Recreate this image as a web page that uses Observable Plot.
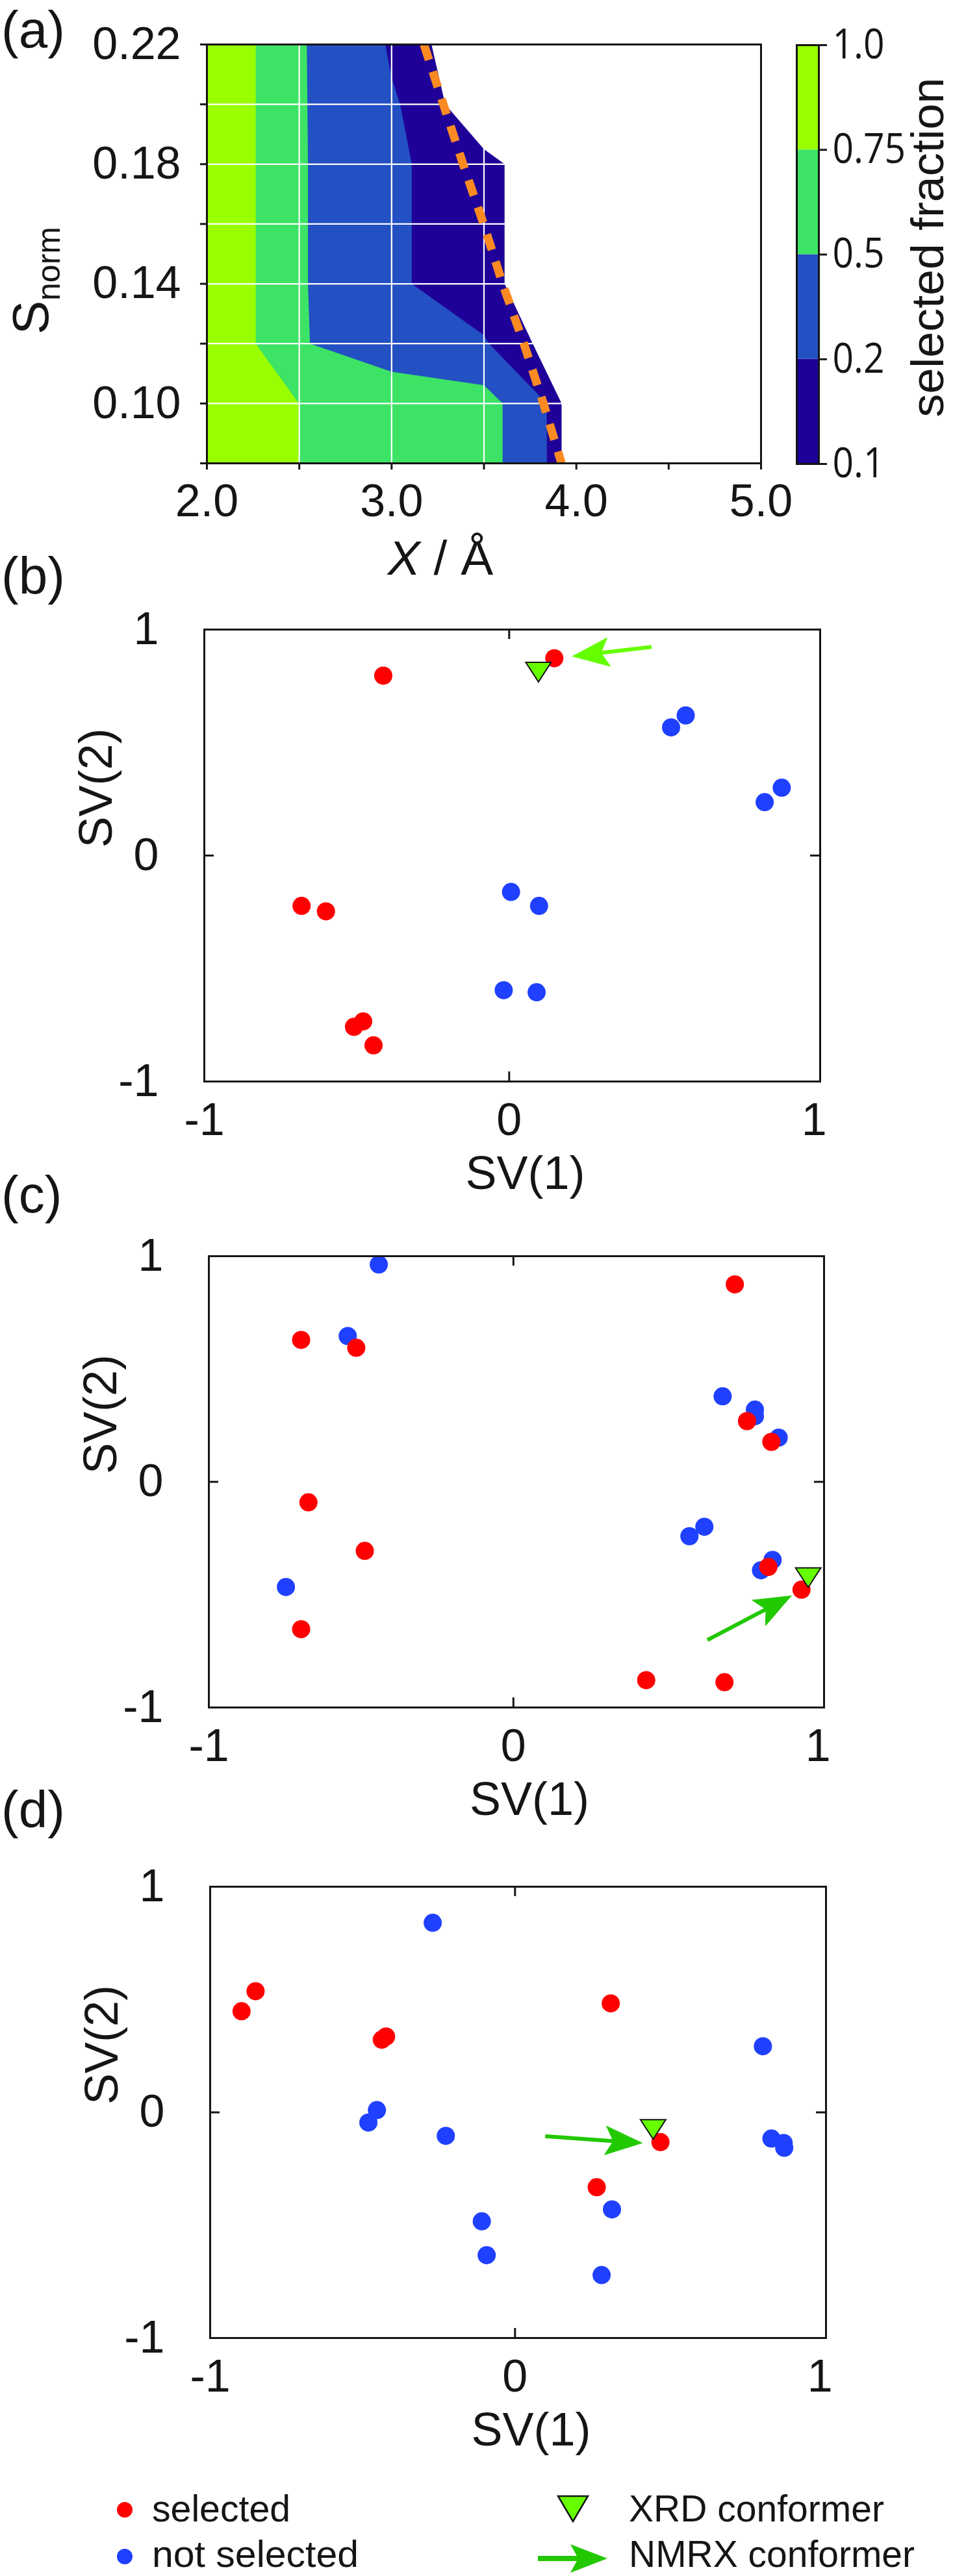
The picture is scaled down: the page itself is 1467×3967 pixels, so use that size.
<!DOCTYPE html>
<html><head><meta charset="utf-8">
<script src="https://cdn.jsdelivr.net/npm/d3@7"></script>
<script src="https://cdn.jsdelivr.net/npm/@observablehq/plot@0.6"></script>
<style>
html,body{margin:0;padding:0;background:#fff;}
#page{position:relative;width:1467px;height:3967px;overflow:hidden;background:#fff;}
</style></head>
<body><div id="page"></div>
<script>
// ===== Panel (a): selected fraction on the (X, S_norm) grid =====
const gridX = [2.0, 2.5, 3.0, 3.5, 4.0, 4.5, 5.0];
const gridY = [0.08, 0.10, 0.12, 0.14, 0.16, 0.18, 0.20, 0.22];
// selected fraction at each grid node, one row per S_norm value (bottom to top)
const fracAt008 = [1.000, 0.7485, 0.7355, 0.6265, 0, 0, 0];
const fracAt010 = [1.000, 0.7485, 0.7355, 0.6265, 0, 0, 0];
const fracAt012 = [1.000, 0.5274, 0.2912, 0.2118, 0, 0, 0];
const fracAt014 = [0.998, 0.5291, 0.2199, 0.1287, 0, 0, 0];
const fracAt016 = [0.998, 0.5291, 0.2199, 0.1287, 0, 0, 0];
const fracAt018 = [0.998, 0.5291, 0.2199, 0.1287, 0, 0, 0];
const fracAt020 = [1.000, 0.5271, 0.2189, 0.0140, 0, 0, 0];
const fracAt022 = [0.998, 0.5289, 0.1760, 0.0000, 0, 0, 0];
const contourLevels = [0.1, 0.2, 0.5, 0.75];
const colorbarLevels = [0.1, 0.2, 0.5, 0.75, 1.0];
const colorbarLabels = ["0.1", "0.2", "0.5", "0.75", "1.0"];
const bandColors = ["#1f0098", "#2350c3", "#3ce364", "#99ff00"];
// dashed boundary
const boundaryY = [0.22, 0.20, 0.18, 0.16, 0.14, 0.12, 0.10, 0.08];
const boundaryX = [3.175, 3.280, 3.387, 3.498, 3.601, 3.716, 3.822, 3.920];
const aTicksX = [2.0, 2.5, 3.0, 3.5, 4.0, 4.5, 5.0];
const aTickLabelsX = ["2.0", "", "3.0", "", "4.0", "", "5.0"];
const aTicksY = [0.08, 0.10, 0.12, 0.14, 0.16, 0.18, 0.20, 0.22];
const aTickLabelsY = ["", "0.10", "", "0.14", "", "0.18", "", "0.22"];
const aGridX = [2.5, 3.0, 3.5, 4.0, 4.5];
const aGridY = [0.10, 0.12, 0.14, 0.16, 0.18, 0.20];

// ===== Panels (b)-(d): SV(1) vs SV(2) =====
const svTicks = [-1, 0, 1];
const bSelectedX = [0.148, -0.413, -0.681, -0.601, -0.479, -0.509, -0.445];
const bSelectedY = [0.873, 0.796, -0.223, -0.247, -0.734, -0.758, -0.840];
const bNotSelectedX = [0.579, 0.531, 0.894, 0.838, 0.006, 0.098, -0.018, 0.090];
const bNotSelectedY = [0.620, 0.567, 0.300, 0.236, -0.161, -0.223, -0.596, -0.605];
const bXrd = [0.096, 0.826];
const bNmrx = [0.467, 0.923, 0.208, 0.882]; // tail x, tail y, tip x, tip y

const cSelectedX = [0.727, -0.697, -0.516, 0.767, 0.847, -0.673, -0.488, 0.837, 0.946, -0.697, 0.436, 0.693];
const cSelectedY = [0.875, 0.629, 0.594, 0.269, 0.177, -0.091, -0.306, -0.377, -0.478, -0.653, -0.879, -0.888];
const cNotSelectedX = [-0.442, -0.544, 0.687, 0.793, 0.793, 0.871, 0.627, 0.578, 0.851, 0.813, -0.747];
const cNotSelectedY = [0.963, 0.646, 0.379, 0.320, 0.291, 0.196, -0.199, -0.241, -0.346, -0.392, -0.466];
const cXrd = [0.968, -0.410];
const cNmrx = [0.637, -0.701, 0.912, -0.506];

const dSelectedX = [-0.851, -0.897, -0.423, -0.437, 0.314, 0.477, 0.268];
const dSelectedY = [0.537, 0.448, 0.336, 0.322, 0.483, -0.132, -0.332];
const dNotSelectedX = [-0.270, 0.813, -0.453, -0.481, -0.227, 0.841, 0.881, 0.883, 0.318, -0.109, -0.093, 0.284];
const dNotSelectedY = [0.840, 0.293, 0.010, -0.045, -0.104, -0.116, -0.136, -0.157, -0.430, -0.483, -0.633, -0.721];
const dXrd = [0.453, -0.061];
const dNmrx = [0.099, -0.106, 0.416, -0.136];

// ===== styling =====
const ink = "#151515";
const fontMain = "'Liberation Sans', Arial, Helvetica, sans-serif";
const fontAlt = "'Open Sans', 'Noto Sans', sans-serif";
const red = "#ff0000", blue = "#2040ff", xrdFill = "#66ff00";
const arrowDark = "#22c800", arrowLight = "#66ff00";
const colorScale = {type: "threshold", domain: contourLevels.slice(1), range: bandColors};

const page = document.getElementById("page");
function place(svg, left, top) {
  svg.style.position = "absolute";
  svg.style.left = left + "px";
  svg.style.top = top + "px";
  svg.style.maxWidth = "none";
  page.appendChild(svg);
}
const lookup = (ticks, labels) => d => {
  const i = ticks.findIndex(t => Math.abs(t - d) < 1e-9);
  return i < 0 ? "" : labels[i];
};
const baseStyle = (size, family) => ({fontFamily: family, fontSize: size + "px", color: ink, background: "transparent", overflow: "visible"});

// ----- panel (a) -----
{
  const W = 1200, H = 900;
  const fracGrid = [fracAt008, fracAt010, fracAt012, fracAt014, fracAt016, fracAt018, fracAt020, fracAt022].flat();
  const hx = (gridX[1] - gridX[0]) / 2, hy = (gridY[1] - gridY[0]) / 2;
  const boundary = boundaryY.map((y, i) => ({x: boundaryX[i], y}));
  const svg = Plot.plot({
    width: W, height: H,
    marginLeft: 318, marginRight: W - 1171, marginTop: 68, marginBottom: H - 713,
    x: {domain: [2, 5], axis: null},
    y: {domain: [0.08, 0.22], axis: null},
    color: colorScale,
    style: baseStyle(70, fontMain),
    marks: [
      Plot.contour(fracGrid, {
        width: gridX.length, height: gridY.length,
        x1: gridX[0] - hx, x2: gridX[gridX.length - 1] + hx,
        y1: gridY[0] - hy, y2: gridY[gridY.length - 1] + hy,
        thresholds: contourLevels, fill: Plot.identity, clip: true
      }),
      Plot.gridX(aGridX, {stroke: "#ffffff", strokeOpacity: 1, strokeWidth: 2.2}),
      Plot.gridY(aGridY, {stroke: "#ffffff", strokeOpacity: 1, strokeWidth: 2.2}),
      Plot.line(boundary, {x: "x", y: "y", stroke: "#fb8a22", strokeWidth: 13, strokeDasharray: "25 19", strokeLinecap: "butt", clip: true}),
      Plot.frame({stroke: ink, strokeWidth: 3}),
      Plot.axisX(aTicksX, {tickSize: 10, tickPadding: 22, strokeWidth: 3, tickFormat: lookup(aTicksX, aTickLabelsX), label: null}),
      Plot.axisY(aTicksY, {tickSize: 10, tickPadding: 30, strokeWidth: 3, tickFormat: lookup(aTicksY, aTickLabelsY), label: null})
    ]
  });
  place(svg, 0, 0);
}

// ----- colorbar -----
{
  const W = 267, H = 800;
  const bands = colorbarLevels.slice(0, -1).map((lo, i) => ({i0: i, i1: i + 1, lo}));
  const idx = colorbarLevels.map((_, i) => i);
  const svg = Plot.plot({
    width: W, height: H,
    marginLeft: 26, marginRight: W - 60, marginTop: 69, marginBottom: H - 714,
    x: {domain: [0, 1], axis: null},
    y: {domain: [0, colorbarLevels.length - 1], axis: null},
    color: colorScale,
    style: baseStyle(64, fontAlt),
    marks: [
      Plot.rect(bands, {x1: 0, x2: 1, y1: "i0", y2: "i1", fill: "lo"}),
      Plot.frame({stroke: ink, strokeWidth: 3}),
      Plot.axisY(idx, {anchor: "right", tickSize: 12, tickPadding: 9, strokeWidth: 3, tickFormat: i => colorbarLabels[i], label: null})
    ]
  });
  place(svg, 1200, 0);
  // narrower (condensed) tick labels like the reference
  svg.querySelectorAll("text").forEach(el => {
    const w = el.getComputedTextLength();
    if (w > 0) { el.setAttribute("textLength", (w * 0.89).toFixed(1)); el.setAttribute("lengthAdjust", "spacingAndGlyphs"); }
  });
}

// ----- scatter panels -----
const triangleDown = {
  draw(context, size) {
    const r = Math.sqrt(size / Math.PI);
    context.moveTo(-0.975 * r, -0.5 * r);
    context.lineTo(0.975 * r, -0.5 * r);
    context.lineTo(0, r);
    context.closePath();
  }
};

function scatterPanel({top, height, frameL, frameR, frameT, frameB, selX, selY, notX, notY, xrd, nmrx, arrowColor}) {
  const W = 1467;
  const xDom = [-1, 1.02], yDom = [-1, 1];
  const innerW = frameR - frameL, innerH = frameB - frameT;
  const kx = innerW / (xDom[1] - xDom[0]), ky = innerH / (yDom[1] - yDom[0]);
  const selected = selX.map((x, i) => ({x, y: selY[i]}));
  const notSelected = notX.map((x, i) => ({x, y: notY[i]}));
  // arrow (tail -> tip), head built in screen units around the tip
  const [tx, ty, hx, hy] = nmrx;
  const px = (hx - tx) * kx, py = -(hy - ty) * ky;
  const len = Math.hypot(px, py), ux = px / len, uy = py / len, nx = -uy, ny = ux;
  const L = 56, Wd = 22, notch = 12;
  const toData = (ox, oy) => ({x: hx + ox / kx, y: hy - oy / ky});
  const head = [
    toData(0, 0),
    toData(-L * ux + Wd * nx, -L * uy + Wd * ny),
    toData(-(L - notch) * ux, -(L - notch) * uy),
    toData(-L * ux - Wd * nx, -L * uy - Wd * ny)
  ];
  const shaft = [{x: tx, y: ty}, toData(-(L - notch - 3) * ux, -(L - notch - 3) * uy)];
  const svg = Plot.plot({
    width: W, height,
    marginLeft: frameL, marginRight: W - frameR, marginTop: frameT - top, marginBottom: top + height - frameB,
    x: {domain: xDom, axis: null},
    y: {domain: yDom, axis: null},
    style: baseStyle(70, fontMain),
    marks: [
      Plot.dot(notSelected, {x: "x", y: "y", r: 14, fill: blue}),
      Plot.dot(selected, {x: "x", y: "y", r: 14, fill: red}),
      Plot.dot([{x: xrd[0], y: xrd[1]}], {x: "x", y: "y", r: 20, symbol: triangleDown, fill: xrdFill, stroke: ink, strokeWidth: 2}),
      Plot.line(shaft, {x: "x", y: "y", stroke: arrowColor, strokeWidth: 6, strokeLinecap: "butt"}),
      Plot.line(head, {x: "x", y: "y", fill: arrowColor, stroke: arrowColor, strokeWidth: 1, strokeLinejoin: "miter", curve: "linear-closed"}),
      Plot.frame({stroke: ink, strokeWidth: 3}),
      Plot.tickX([0], {stroke: ink, strokeWidth: 3, insetTop: innerH - 15}),
      Plot.tickX([0], {stroke: ink, strokeWidth: 3, insetBottom: innerH - 15}),
      Plot.tickY([0], {stroke: ink, strokeWidth: 3, insetRight: innerW - 15}),
      Plot.tickY([0], {stroke: ink, strokeWidth: 3, insetLeft: innerW - 15}),
      Plot.axisX(svTicks, {tickSize: 0, tickPadding: 33, tickFormat: d => String(d), label: null}),
      Plot.axisY(svTicks, {tickSize: 0, tickPadding: 70, tickFormat: d => String(d), label: null}),
      Plot.text(["SV(1)"], {frameAnchor: "bottom", dx: 20, dy: 142, fontSize: 72, lineAnchor: "middle"}),
      Plot.text(["SV(2)"], {frameAnchor: "left", dx: -166, dy: -12, fontSize: 72, rotate: -90, lineAnchor: "middle"})
    ]
  });
  place(svg, 0, top);
}

scatterPanel({top: 880, height: 960, frameL: 314, frameR: 1262, frameT: 969, frameB: 1665,
  selX: bSelectedX, selY: bSelectedY, notX: bNotSelectedX, notY: bNotSelectedY, xrd: bXrd, nmrx: bNmrx, arrowColor: arrowLight});
scatterPanel({top: 1850, height: 960, frameL: 321, frameR: 1268, frameT: 1934, frameB: 2629,
  selX: cSelectedX, selY: cSelectedY, notX: cNotSelectedX, notY: cNotSelectedY, xrd: cXrd, nmrx: cNmrx, arrowColor: arrowDark});
scatterPanel({top: 2820, height: 960, frameL: 323, frameR: 1271, frameT: 2905, frameB: 3600,
  selX: dSelectedX, selY: dSelectedY, notX: dNotSelectedX, notY: dNotSelectedY, xrd: dXrd, nmrx: dNmrx, arrowColor: arrowDark});

// ----- overlay: panel letters, axis titles of (a), colorbar title, legend -----
{
  const ov = d3.create("svg").attr("width", 1467).attr("height", 3967)
    .style("position", "absolute").style("left", "0px").style("top", "0px")
    .style("pointer-events", "none").style("overflow", "visible");
  const t = (x, y, str, size, family) => ov.append("text").attr("x", x).attr("y", y)
    .attr("font-size", size).attr("font-family", family).attr("fill", ink).text(str);
  // panel letters
  [["(a)", 73], ["(b)", 914], ["(c)", 1867], ["(d)", 2814]].forEach(([s, y]) => t(2, y, s, 80, fontMain));
  // X / Å
  const xl = ov.append("text").attr("x", 678).attr("y", 885).attr("text-anchor", "middle")
    .attr("font-size", 75).attr("font-family", fontMain).attr("fill", ink);
  xl.append("tspan").attr("font-style", "italic").text("X");
  xl.append("tspan").text(" / Å");
  // S_norm
  const sl = ov.append("text").attr("transform", "translate(74,432) rotate(-90)").attr("text-anchor", "middle")
    .attr("font-family", fontMain).attr("fill", ink);
  sl.append("tspan").attr("font-size", 78).text("S");
  sl.append("tspan").attr("font-size", 50).attr("dy", 18).text("norm");
  // colorbar title
  ov.append("text").attr("transform", "translate(1452,381) rotate(-90)").attr("text-anchor", "middle")
    .attr("font-size", 70).attr("font-family", fontMain).attr("fill", ink)
    .attr("textLength", 523).attr("lengthAdjust", "spacingAndGlyphs").text("selected fraction");
  // legend
  const lg = (x, y, str, len) => ov.append("text").attr("x", x).attr("y", y).attr("font-size", 58)
    .attr("font-family", fontMain).attr("fill", ink).attr("textLength", len).attr("lengthAdjust", "spacingAndGlyphs").text(str);
  ov.append("circle").attr("cx", 192).attr("cy", 3865).attr("r", 12).attr("fill", red);
  lg(234, 3883, "selected", 213);
  ov.append("circle").attr("cx", 192).attr("cy", 3937).attr("r", 12).attr("fill", blue);
  lg(234, 3953, "not selected", 318);
  ov.append("path").attr("d", "M859,3844L905,3844L882,3883Z").attr("fill", xrdFill).attr("stroke", ink).attr("stroke-width", 2.5);
  lg(968, 3883, "XRD conformer", 393);
  ov.append("path").attr("d", "M828,3940L893,3940").attr("stroke", arrowDark).attr("stroke-width", 8);
  ov.append("path").attr("d", "M935,3940L878,3918L890,3940L878,3962Z").attr("fill", arrowDark);
  lg(968, 3953, "NMRX conformer", 440);
  page.appendChild(ov.node());
}
</script>
</body></html>
